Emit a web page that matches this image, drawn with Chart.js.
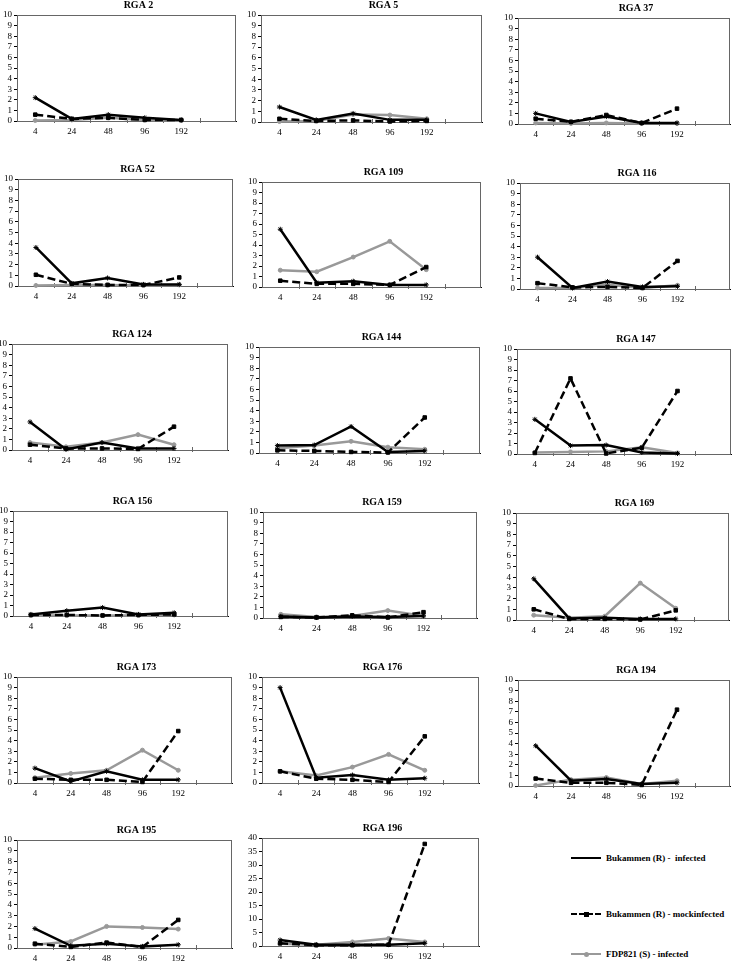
<!DOCTYPE html>
<html>
<head>
<meta charset="utf-8">
<script src="https://cdn.jsdelivr.net/npm/chart.js@4.4.1/dist/chart.umd.min.js"></script>
<style>
    body { margin: 0; background: #fff; width: 738px; height: 962px; position: relative; overflow: hidden; font-family: "Liberation Serif", serif; }
    canvas.panel { position: absolute; }
    .key { position: absolute; left: 571px; height: 12px; font-weight: bold; font-size: 9px; color: #000; }
    .key span.ln { position: absolute; left: 0; top: 5px; width: 30px; height: 0; border-top: 2.5px solid #000; }
    .key span.mk { position: absolute; left: 13px; top: 4px; width: 5px; height: 5px; background: #000; }
    .key span.tx { position: absolute; left: 35px; top: 0; white-space: pre; line-height: 12px; }
</style>
</head>
<body>
<div class="key" style="top:852px"><span class="ln"></span><span class="tx">Bukammen (R) -  infected</span></div>
<div class="key" style="top:908px"><span class="ln" style="border-top-style:dashed"></span><span class="mk"></span><span class="tx">Bukammen (R) - mockinfected</span></div>
<div class="key" style="top:948px"><span class="ln" style="border-top-color:#999"></span><span class="mk" style="background:#999;border-radius:50%"></span><span class="tx">FDP821 (S) - infected</span></div>
<script>
'use strict';

// hours after inoculation
const hours = ['4', '24', '48', '96', '192'];

const genes = ['RGA 2', 'RGA 5', 'RGA 37', 'RGA 52', 'RGA 109', 'RGA 116',
    'RGA 124', 'RGA 144', 'RGA 147', 'RGA 156', 'RGA 159', 'RGA 169',
    'RGA 173', 'RGA 176', 'RGA 194', 'RGA 195', 'RGA 196'];

// Bukammen (R) - infected
const infected = [
    [2.2, 0.2, 0.6, 0.3, 0.1],
    [1.4, 0.2, 0.8, 0.2, 0.2],
    [1.0, 0.2, 0.7, 0.1, 0.1],
    [3.6, 0.25, 0.75, 0.15, 0.15],
    [5.5, 0.4, 0.55, 0.2, 0.2],
    [3.0, 0.1, 0.7, 0.2, 0.25],
    [2.65, 0.05, 0.7, 0.15, 0.15],
    [0.7, 0.75, 2.5, 0.1, 0.2],
    [3.3, 0.8, 0.85, 0.15, 0.05],
    [0.15, 0.5, 0.8, 0.15, 0.3],
    [0.15, 0.05, 0.15, 0.1, 0.2],
    [3.85, 0.15, 0.2, 0.1, 0.1],
    [1.4, 0.15, 1.1, 0.3, 0.3],
    [9.0, 0.5, 0.75, 0.3, 0.45],
    [3.8, 0.5, 0.65, 0.2, 0.3],
    [1.8, 0.2, 0.4, 0.15, 0.3],
    [2.2, 0.5, 0.5, 0.5, 1.0]
];

// Bukammen (R) - mockinfected
const mockinfected = [
    [0.6, 0.2, 0.3, 0.1, 0.1],
    [0.3, 0.1, 0.15, 0.05, 0.1],
    [0.5, 0.2, 0.85, 0.1, 1.45],
    [1.05, 0.2, 0.1, 0.1, 0.8],
    [0.6, 0.3, 0.3, 0.2, 1.9],
    [0.55, 0.15, 0.2, 0.1, 2.65],
    [0.5, 0.15, 0.15, 0.1, 2.2],
    [0.25, 0.2, 0.1, 0.05, 3.35],
    [0.1, 7.2, 0.05, 0.6, 6.0],
    [0.1, 0.1, 0.05, 0.1, 0.15],
    [0.1, 0.05, 0.25, 0.05, 0.55],
    [1.0, 0.1, 0.1, 0.05, 0.9],
    [0.4, 0.3, 0.3, 0.1, 4.9],
    [1.1, 0.4, 0.3, 0.1, 4.4],
    [0.7, 0.3, 0.3, 0.1, 7.2],
    [0.4, 0.1, 0.5, 0.1, 2.6],
    [1.0, 0.3, 0.3, 0.5, 37.8]
];

// FDP821 (S) - infected
const fdp821 = [
    [0.05, 0.1, 0.3, 0.1, 0.05],
    [0.05, 0.1, 0.7, 0.65, 0.3],
    [0.1, 0.05, 0.1, 0.05, 0.05],
    [0.05, 0.1, 0.1, 0.05, 0.1],
    [1.6, 1.45, 2.85, 4.35, 1.65],
    [0.1, 0.1, 0.4, 0.1, 0.35],
    [0.7, 0.3, 0.7, 1.45, 0.5],
    [0.45, 0.7, 1.1, 0.55, 0.35],
    [0.15, 0.2, 0.25, 0.65, 0.1],
    [0.05, 0.05, 0.05, 0.05, 0.1],
    [0.35, 0.1, 0.2, 0.7, 0.2],
    [0.45, 0.2, 0.35, 3.45, 1.1],
    [0.5, 0.9, 1.2, 3.1, 1.2],
    [1.1, 0.7, 1.5, 2.7, 1.2],
    [0.05, 0.6, 0.8, 0.2, 0.5],
    [0.3, 0.6, 2.0, 1.9, 1.75],
    [0.8, 0.5, 1.5, 2.8, 1.5]
];

const yMax = [10, 10, 10, 10, 10, 10, 10, 10, 10, 10, 10, 10, 10, 10, 10, 10, 40];
const yStep = [1, 1, 1, 1, 1, 1, 1, 1, 1, 1, 1, 1, 1, 1, 1, 1, 5];

// plot area of each panel: left, top, right, bottom
const boxes = [
    [17, 15, 239, 121], [261, 15, 485, 122], [518, 18, 733, 124],
    [18, 179, 236, 286], [262, 182, 484, 287], [520, 183, 733, 289],
    [12, 344, 231, 450], [259, 347, 483, 453], [517, 349, 734, 454],
    [13, 511, 231, 616], [263, 512, 480, 618], [516, 513, 732, 620],
    [17, 677, 235, 783], [262, 677, 482, 783], [518, 680, 733, 786],
    [17, 840, 235, 948], [262, 838, 482, 946]
];

const Y_W = 22, TITLE_H = 16, X_H = 20, R_PAD = 2;
const FONT = 'Liberation Serif';

// frame round the plot area, category tick marks and the panel title
const framePlugin = {
    id: 'frame',
    beforeDatasetsDraw(chart) {
        let {ctx, chartArea: a, scales: {x}} = chart;
        ctx.save();
        ctx.strokeStyle = '#666';
        ctx.lineWidth = 1;
        ctx.strokeRect(a.left + 0.5, a.top + 0.5, a.right - a.left - 1, a.bottom - a.top);
        ctx.beginPath();
        for (let v = 0.5; v < 5.5; v++) {
            let px = Math.round(x.getPixelForValue(v)) + 0.5;
            ctx.moveTo(px, a.bottom - 3);
            ctx.lineTo(px, a.bottom + 2);
        }
        ctx.stroke();
        ctx.restore();
    },
    afterDraw(chart, args, opts) {
        let {ctx, chartArea: a} = chart;
        ctx.save();
        ctx.fillStyle = '#000';
        ctx.font = 'bold 10px "' + FONT + '"';
        ctx.textAlign = 'center';
        ctx.textBaseline = 'middle';
        ctx.fillText(opts.text, (a.left + a.right) / 2 + 12, a.top - 10);
        ctx.restore();
    }
};

function lineSet(data, color, dash, style, radius) {
    return {
        data: data.map((v, i) => ({x: i, y: v})),
        borderColor: color,
        backgroundColor: color,
        borderWidth: 2.5,
        borderDash: dash,
        tension: 0,
        pointStyle: style,
        pointRadius: radius,
        pointBorderWidth: 1,
        pointBorderColor: color,
        pointBackgroundColor: color,
        clip: 6
    };
}

function makePanel(i) {
    let [l, t, r, b] = boxes[i];
    let canvas = document.createElement('canvas');
    canvas.className = 'panel';
    canvas.width = r - l + Y_W + R_PAD;
    canvas.height = b - t + TITLE_H + X_H;
    canvas.style.left = (l - Y_W) + 'px';
    canvas.style.top = (t - TITLE_H) + 'px';
    document.body.appendChild(canvas);

    new Chart(canvas.getContext('2d'), {
        type: 'line',
        data: {
            datasets: [
                lineSet(infected[i], '#000', [], 'star', 2.5),
                lineSet(mockinfected[i], '#000', [8, 4], 'rect', 2.5),
                lineSet(fdp821[i], '#999', [], 'circle', 2)
            ]
        },
        options: {
            responsive: false,
            animation: false,
            devicePixelRatio: 1,
            layout: {padding: {left: 0, right: R_PAD, top: TITLE_H, bottom: 0}},
            plugins: {
                legend: {display: false},
                tooltip: {enabled: false},
                frame: {text: genes[i]}
            },
            scales: {
                x: {
                    type: 'linear',
                    min: -0.5,
                    max: 5.5,
                    afterBuildTicks: s => { s.ticks = [0, 1, 2, 3, 4].map(v => ({value: v})); },
                    afterFit: s => { s.height = X_H; },
                    ticks: {
                        callback: v => hours[v],
                        autoSkip: false,
                        color: '#000',
                        font: {family: FONT, size: 9},
                        padding: 5,
                        maxRotation: 0
                    },
                    grid: {display: true, drawOnChartArea: false, drawTicks: false},
                    border: {color: '#000', width: 1}
                },
                y: {
                    min: 0,
                    max: yMax[i],
                    afterFit: s => { s.width = Y_W; },
                    ticks: {
                        stepSize: yStep[i],
                        autoSkip: false,
                        color: '#000',
                        font: {family: FONT, size: 9},
                        padding: 2
                    },
                    grid: {display: true, drawOnChartArea: false, tickLength: 3, color: '#000'},
                    border: {color: '#000', width: 1}
                }
            }
        },
        plugins: [framePlugin]
    });
}

genes.forEach((g, i) => makePanel(i));
</script>
</body>
</html>
